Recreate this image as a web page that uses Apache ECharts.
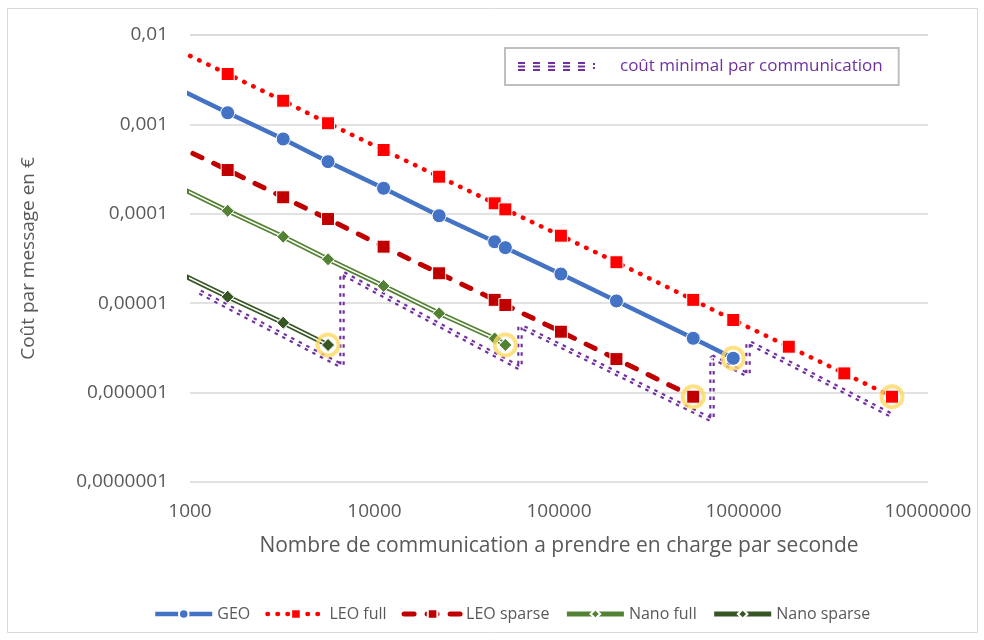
<!DOCTYPE html>
<html>
<head>
<meta charset="utf-8">
<script src="https://cdn.jsdelivr.net/npm/echarts@6/dist/echarts.min.js"></script>
<style>
  html, body { margin: 0; padding: 0; background: #fff; }
  #chart { width: 984px; height: 640px; }
</style>
</head>
<body>
<div id="chart"></div>
<script>
// shared x points (first one lies left of the axis min, so the lines start at the edge)
var xValues = [800, 1600, 3200, 5600, 11200, 22400, 44800, 51200, 102400, 204800, 534000, 880000, 1760000, 3520000, 6380000];

var geo = [2.70e-3, 1.35e-3, 6.87e-4, 3.83e-4, 1.93e-4, 9.52e-5, 4.87e-5, 4.18e-5, 2.12e-5, 1.06e-5, 4.05e-6, 2.42e-6];
var leoFull = [7.3e-3, 3.66e-3, 1.84e-3, 1.03e-3, 5.17e-4, 2.60e-4, 1.31e-4, 1.12e-4, 5.69e-5, 2.87e-5, 1.09e-5, 6.49e-6, 3.26e-6, 1.64e-6, 9.0e-7];
var leoSparse = [6.1e-4, 3.09e-4, 1.53e-4, 8.74e-5, 4.29e-5, 2.16e-5, 1.09e-5, 9.54e-6, 4.80e-6, 2.37e-6, 9.0e-7];
var nanoFull = [2.17e-4, 1.08e-4, 5.54e-5, 3.10e-5, 1.56e-5, 7.71e-6, 4.03e-6, 3.41e-6];
var nanoSparse = [2.37e-5, 1.18e-5, 6.05e-6, 3.41e-6];

// minimal cost envelope (purple)
var minCostX = [1133, 6665, 6665, 61450, 61450, 675000, 675000, 1058000, 1058000, 6300000];
var minCostY = [1.33e-5, 1.98e-6, 2.18e-5, 1.88e-6, 5.56e-6, 4.94e-7, 2.50e-6, 1.57e-6, 3.68e-6, 5.62e-7];

// circled optimum points
var optimumX = [5600, 51200, 534000, 880000, 6380000];
var optimumY = [3.41e-6, 3.41e-6, 9.0e-7, 2.42e-6, 9.0e-7];

var yTicks = [1e-7, 1e-6, 1e-5, 1e-4, 1e-3, 1e-2];
var yTickLabels = ['0,0000001', '0,000001', '0,00001', '0,0001', '0,001', '0,01'];
var xTicks = [1e3, 1e4, 1e5, 1e6, 1e7];
var xTickLabels = ['1000', '10000', '100000', '1000000', '10000000'];

var FONT = 'Open Sans';
var grey = '#595959';
var purple = '#7030a0';

function pairs(xs, ys) {
  return ys.map(function(y, i) { return [xs[i], y]; });
}
function tickLabel(ticks, labels, v) {
  var best = 0;
  for (var i = 1; i < ticks.length; i++) {
    if (Math.abs(Math.log10(ticks[i]) - Math.log10(v)) < Math.abs(Math.log10(ticks[best]) - Math.log10(v))) best = i;
  }
  return labels[best];
}

// legend icon for the purple line: five little "≡" and a ":"
var purpleIcon = 'path://';
for (var k = 0; k < 5; k++) {
  var x0 = k * 15;
  purpleIcon += 'M' + x0 + ',0h7v2h-7z M' + x0 + ',3.5h7v2h-7z M' + x0 + ',7h7v2h-7z ';
}
purpleIcon += 'M75,1h2v2h-2z M75,5h2v2h-2z';

var series = [];

// purple envelope: dashed thick line + thin white centre line
series.push({
  name: 'coût minimal par communication',
  type: 'line',
  data: pairs(minCostX, minCostY),
  symbol: 'none',
  z: 1,
  itemStyle: { color: purple },
  lineStyle: { color: purple, width: 5.5, type: [3.5, 5] }
});
series.push({
  type: 'line',
  data: pairs(minCostX, minCostY),
  symbol: 'none',
  silent: true,
  z: 1,
  lineStyle: { color: '#fff', width: 1.2 }
});

function simpleSeries(name, ys, color, lineStyle, symbol, size) {
  return {
    name: name,
    type: 'line',
    data: pairs(xValues, ys),
    symbol: symbol,
    symbolSize: size,
    z: 3,
    itemStyle: { color: color, borderColor: '#fff', borderWidth: 1 },
    lineStyle: Object.assign({ color: color }, lineStyle)
  };
}

series.push(simpleSeries('GEO', geo, '#4472c4', { width: 4.5 }, 'circle', 14));
series.push(simpleSeries('LEO full', leoFull, '#ff0000', { width: 4.5, type: [0.5, 9.5], cap: 'round' }, 'rect', 13));
series.push(simpleSeries('LEO sparse', leoSparse, '#c00000', { width: 5, type: [10, 13], cap: 'round' }, 'rect', 13));

// double lines: coloured line, white centre, markers on top again
function doubleSeries(name, ys, color) {
  var data = pairs(xValues, ys);
  series.push({
    name: name, type: 'line', data: data, symbol: 'diamond', symbolSize: 13, z: 3,
    itemStyle: { color: color, borderColor: '#fff', borderWidth: 1 },
    lineStyle: { color: color, width: 5 }
  });
  series.push({
    type: 'line', data: data, symbol: 'none', silent: true, z: 4,
    lineStyle: { color: '#fff', width: 1.5 }
  });
  series.push({
    type: 'line', data: data, symbol: 'diamond', symbolSize: 13, silent: true, z: 5,
    itemStyle: { color: color, borderColor: '#fff', borderWidth: 1 },
    lineStyle: { opacity: 0 }
  });
}
doubleSeries('Nano full', nanoFull, '#548235');
doubleSeries('Nano sparse', nanoSparse, '#375623');

series.push({
  type: 'scatter',
  data: pairs(optimumX, optimumY),
  symbol: 'circle',
  symbolSize: 21,
  silent: true,
  z: 6,
  itemStyle: { color: 'rgba(0,0,0,0)', borderColor: '#ffd966', borderWidth: 4 }
});

var chart = echarts.init(document.getElementById('chart'), null, { renderer: 'canvas' });
chart.setOption({
  animation: false,
  backgroundColor: '#fff',
  textStyle: { fontFamily: FONT },
  graphic: [{
    type: 'rect',
    shape: { x: 7.5, y: 8.5, width: 970, height: 624 },
    style: { fill: 'none', stroke: '#d9d9d9', lineWidth: 1 },
    z: -1
  }],
  grid: { left: 190, right: 56, top: 35, bottom: 158 },
  legend: [{
    data: ['GEO', 'LEO full', 'LEO sparse', 'Nano full', 'Nano sparse'],
    left: 148,
    top: 601,
    itemWidth: 57,
    itemHeight: 12,
    itemGap: 15,
    lineStyle: { width: 'inherit' },
    textStyle: { color: grey, fontSize: 16, fontFamily: FONT }
  }, {
    data: [{ name: 'coût minimal par communication', icon: purpleIcon }],
    left: 505,
    top: 48,
    itemWidth: 77,
    itemHeight: 9,
    padding: [10, 16, 10, 13],
    borderColor: '#bfbfbf',
    borderWidth: 2,
    textStyle: { color: purple, fontSize: 17, fontFamily: FONT, padding: [0, 0, 0, 20] }
  }],
  xAxis: {
    type: 'log',
    logBase: 10,
    min: 1e3,
    max: 1e7,
    name: 'Nombre de communication a prendre en charge par seconde',
    nameLocation: 'middle',
    nameGap: 54,
    nameTextStyle: { color: grey, fontSize: 21, fontFamily: FONT },
    axisLine: { show: false },
    axisTick: { show: false },
    splitLine: { show: false },
    axisLabel: {
      color: grey, fontSize: 19, fontFamily: FONT, margin: 20,
      formatter: function(v) { return tickLabel(xTicks, xTickLabels, v); }
    }
  },
  yAxis: {
    type: 'log',
    logBase: 10,
    min: 1e-7,
    max: 1e-2,
    name: 'Coût par message en €',
    nameLocation: 'middle',
    nameGap: 152,
    nameTextStyle: { color: grey, fontSize: 19, fontFamily: FONT },
    axisLine: { show: false },
    axisTick: { show: false },
    splitLine: { lineStyle: { color: '#d9d9d9', width: 1.5 } },
    axisLabel: {
      color: grey, fontSize: 19, fontFamily: FONT, margin: 22,
      formatter: function(v) { return tickLabel(yTicks, yTickLabels, v); }
    }
  },
  series: series
});
</script>
</body>
</html>
